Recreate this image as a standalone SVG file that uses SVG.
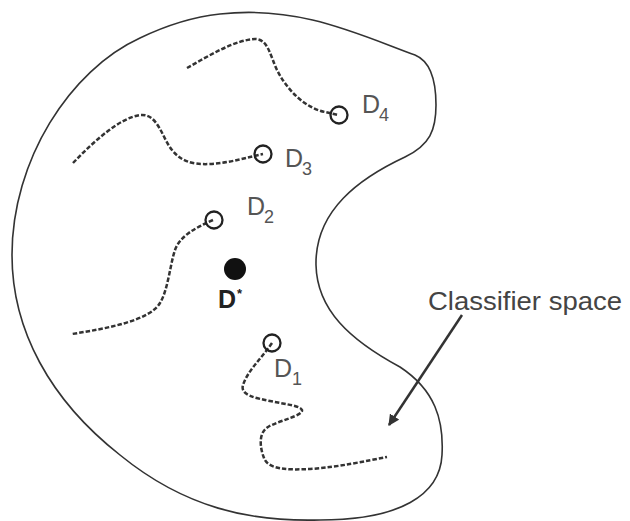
<svg xmlns="http://www.w3.org/2000/svg" width="630" height="521" viewBox="0 0 630 521">
<style>
.outline{fill:none;stroke:#333;stroke-width:1.6}
.path{fill:none;stroke:#333;stroke-width:2.5;stroke-dasharray:4.5 2}
.pt{fill:none;stroke:#222;stroke-width:2.3}
.lbl{font-family:"Liberation Sans",Arial,sans-serif;font-size:25px;fill:#555}
.sub{font-family:"Liberation Sans",Arial,sans-serif;font-size:18px;fill:#555}
.cap{font-family:"Liberation Sans",Arial,sans-serif;font-size:26px;fill:#444}
</style>
<defs>
<marker id="ah" viewBox="0 0 10 10" refX="9" refY="5" markerWidth="4.5" markerHeight="4.5" orient="auto" markerUnits="strokeWidth">
<path d="M0,0 L10,5 L0,10 Z" fill="#333"/>
</marker>
</defs>
<rect width="630" height="521" fill="#fff"/>
<g id="classifier-space">
<path class="outline" d="M220,14 C300,5 360,35 415,55 C432,62 436,85 436,105 C436,130 430,145 405,157 C360,178 315,210 316,265 C317,310 350,340 400,367 C435,390 444,420 442,455 C440,495 400,520 320,520 C250,522 185,508 120,455 C50,400 12,330 12,255 C12,160 70,70 140,38 C165,26 192,17 220,14 Z"/>
<text class="cap" x="428" y="310" textLength="194" lengthAdjust="spacingAndGlyphs">Classifier space</text>
</g>
<g id="connectors">
<path class="path" d="M187,68 C210,55 235,40 255,39 C268,39 270,55 277,70 C287,90 305,108 325,112 L338,115"/>
<path class="path" d="M73,163 C95,140 120,118 140,115 C158,113 162,138 172,150 C180,160 190,165 210,164 C230,163 248,157 263,154"/>
<path class="path" d="M213,220 C195,228 180,236 175,250 C170,265 168,290 160,303 C150,320 110,328 72,334"/>
<path class="path" d="M272,343 C262,358 248,370 243,385 C240,395 255,398 270,401 C290,405 300,406 302,410 C303,416 280,420 268,427 C258,433 260,448 264,458 C268,470 290,470 310,469 C340,467 365,461 387,457"/>
<line x1="462" y1="315" x2="389" y2="425" stroke="#333" stroke-width="2.5" marker-end="url(#ah)"/>
</g>
<g id="D4">
<circle class="pt" cx="339" cy="115" r="8.5"/>
<text class="lbl" x="362" y="113">D</text><text class="sub" x="379" y="121">4</text>
</g>
<g id="D3">
<circle class="pt" cx="263" cy="154" r="8.5"/>
<text class="lbl" x="285" y="167">D</text><text class="sub" x="302" y="175">3</text>
</g>
<g id="D2">
<circle class="pt" cx="214" cy="220" r="8.5"/>
<text class="lbl" x="247" y="215">D</text><text class="sub" x="264" y="223">2</text>
</g>
<g id="Dstar">
<circle cx="235" cy="269" r="11" fill="#111"/>
<text x="218" y="308" font-family="Liberation Sans, Arial, sans-serif" font-size="25" font-weight="bold" fill="#222">D<tspan font-size="13" dx="1" dy="-10">*</tspan></text>
</g>
<g id="D1">
<circle class="pt" cx="272" cy="343" r="8.5"/>
<text class="lbl" x="274" y="377">D</text><text class="sub" x="292" y="385">1</text>
</g>
</svg>
